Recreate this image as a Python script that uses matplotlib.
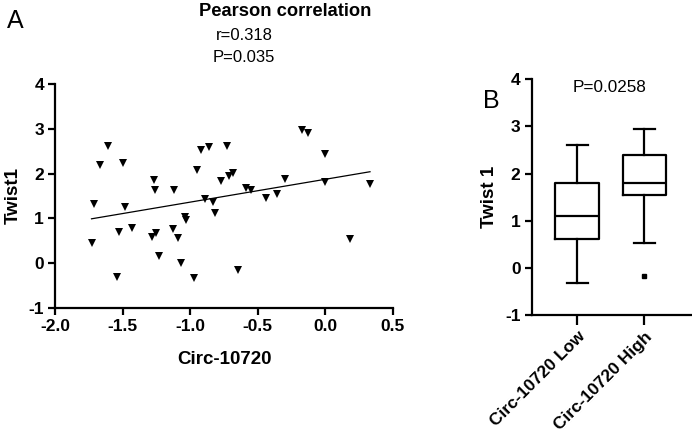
import numpy as np
import matplotlib
matplotlib.use("Agg")
import matplotlib.pyplot as plt

plt.rcParams['font.family'] = ['Liberation Sans', 'DejaVu Sans']
plt.rcParams['axes.unicode_minus'] = False

# Panel A: scatter data (Circ-10720 vs Twist1)
circ = [-1.61, -1.67, -1.50, -1.71, -1.48, -1.73, -1.53, -1.43, -1.54,
        -1.27, -1.26, -1.12, -1.28, -1.25, -1.23, -1.13, -1.09, -1.07,
        -0.97, -1.04, -1.03, -0.95, -0.92, -0.86, -0.73, -0.89, -0.83,
        -0.82, -0.77, -0.71, -0.68, -0.59, -0.65, -0.17, -0.13, 0.00,
        -0.30, 0.00, 0.33, -0.55, -0.44, -0.36, 0.18]
twist = [2.62, 2.19, 2.23, 1.31, 1.25, 0.46, 0.70, 0.79, -0.30,
         1.86, 1.63, 1.63, 0.58, 0.67, 0.16, 0.77, 0.56, 0.00,
         -0.32, 1.02, 0.96, 2.07, 2.53, 2.60, 2.62, 1.44, 1.37,
         1.13, 1.83, 1.95, 2.02, 1.67, -0.16, 2.97, 2.91, 2.43,
         1.87, 1.81, 1.77, 1.63, 1.45, 1.54, 0.53]

# Panel B: box plot statistics
groups = ["Circ-10720 Low", "Circ-10720 High"]
whislo = [-0.33, 0.52]
q1 = [0.62, 1.54]
med = [1.11, 1.79]
q3 = [1.80, 2.39]
whishi = [2.60, 2.94]
fliers = [[], [-0.17]]

fig = plt.figure(figsize=(6.92, 4.36), dpi=100)

# ---------- Panel A ----------
ax1 = fig.add_axes([0.0795, 0.2936, 0.4884, 0.5138])
ax1.plot(circ, twist, linestyle='none', marker='v', markersize=5.5,
         color='black', markeredgewidth=0)
x = np.array(circ); y = np.array(twist)
b1, b0 = np.polyfit(x, y, 1)
xl = np.array([x.min(), x.max()])
ax1.plot(xl, b0 + b1 * xl, color='black', linewidth=0.9)
ax1.set_xlim(-2.0, 0.5)
ax1.set_ylim(-1, 4)
ax1.set_xticks([-2.0, -1.5, -1.0, -0.5, 0.0, 0.5])
ax1.set_xticklabels(['-2.0', '-1.5', '-1.0', '-0.5', '0.0', '0.5'])
ax1.set_yticks([-1, 0, 1, 2, 3, 4])
ax1.set_xlabel('Circ-10720', fontsize=13.5, fontweight='bold', labelpad=12)
ax1.set_ylabel('Twist1', fontsize=13.5, fontweight='bold', labelpad=5)

# ---------- Panel B ----------
ax2 = fig.add_axes([0.7683, 0.2775, 0.2317, 0.5406])
stats = []
for i in range(len(groups)):
    stats.append(dict(label=groups[i], whislo=whislo[i], q1=q1[i], med=med[i],
                      q3=q3[i], whishi=whishi[i], fliers=fliers[i]))
lw = 1.6
ax2.bxp(stats, positions=[0, 1], widths=0.65, showfliers=True,
        boxprops=dict(color='black', linewidth=lw),
        medianprops=dict(color='black', linewidth=lw),
        whiskerprops=dict(color='black', linewidth=lw),
        capprops=dict(color='black', linewidth=lw),
        capwidths=0.32,
        flierprops=dict(marker='s', markersize=3.5, markerfacecolor='black',
                        markeredgecolor='black'))
ax2.set_xlim(-0.68, 1.71)
ax2.set_ylim(-1, 4)
ax2.set_yticks([-1, 0, 1, 2, 3, 4])
ax2.set_xticks([0, 1])
ax2.set_xticklabels(groups, rotation=45, ha='right', rotation_mode='anchor')
ax2.set_ylabel('Twist 1', fontsize=13.5, fontweight='bold', labelpad=5)

for ax in (ax1, ax2):
    for s in ('top', 'right'):
        ax.spines[s].set_visible(False)
    for s in ('left', 'bottom'):
        ax.spines[s].set_linewidth(1.6)
    ax.tick_params(direction='out', length=5, width=1.6, labelsize=12.5, pad=3)
    for lab in ax.get_xticklabels() + ax.get_yticklabels():
        lab.set_fontweight('bold')
ax2.tick_params(axis='x', labelsize=12.5, length=7)

# Texts
fig.text(15 / 692, 1 - 21 / 436, 'A', fontsize=18, ha='center', va='center')
fig.text(491 / 692, 1 - 101 / 436, 'B', fontsize=18, ha='center', va='center')
fig.text(285 / 692, 1 - 11 / 436, 'Pearson correlation', fontsize=13.2,
         fontweight='bold', ha='center', va='center')
fig.text(244 / 692, 1 - 36 / 436, 'r=0.318', fontsize=12, ha='center', va='center')
fig.text(244 / 692, 1 - 57 / 436, 'P=0.035', fontsize=12, ha='center', va='center')
fig.text(610 / 692, 1 - 87 / 436, 'P=0.0258', fontsize=12.3, ha='center', va='center')

fig.savefig('out.png', dpi=100)
